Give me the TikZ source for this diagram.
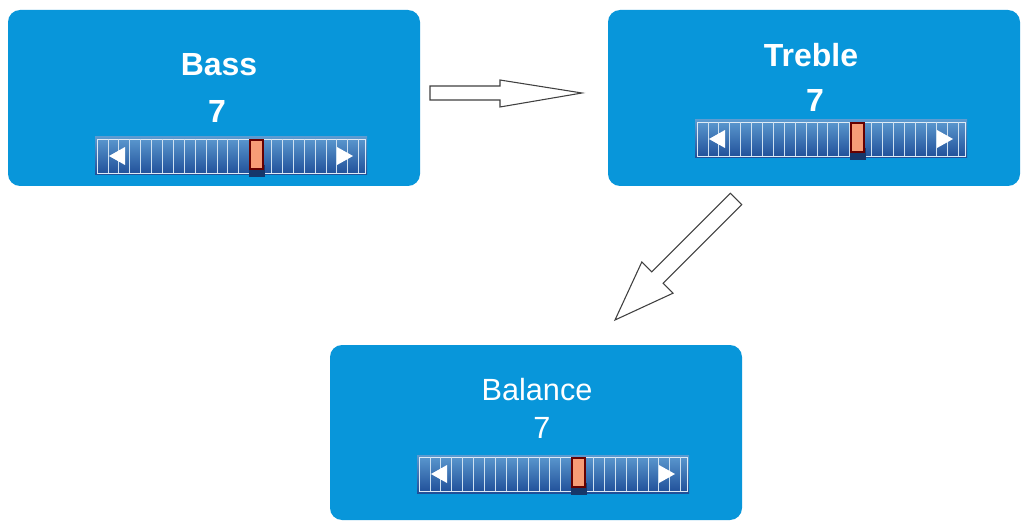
\documentclass[tikz,border=0pt]{standalone}
\usepackage{fontspec}
\setmainfont{Liberation Sans}
\begin{document}
\begin{tikzpicture}[x=0.75pt,y=-0.75pt,
  box/.style={fill=boxblue,rounded corners=9pt},
  lbl/.style={text=white,font=\fontsize{23}{25}\selectfont},
  blbl/.style={text=white,font=\fontsize{24}{26}\selectfont\bfseries},
  blk/.style={draw=black!75,fill=white,line width=0.8pt,line join=miter}]
\definecolor{boxblue}{HTML}{0896DA}
\definecolor{slA}{HTML}{5C9AD0}
\definecolor{slB}{HTML}{1F4E98}
\definecolor{thumb}{HTML}{F79C76}
\newcommand{\myslider}[3]{%
  \shade[top color=slA,bottom color=slB] (#1,#2) rectangle ++(272,38);
  \draw[white!80!slA,line width=0.6pt] (#1+2,#2+2) rectangle ++(268,34);
  \foreach \i in {1,...,24}{\draw[white!70!slA,line width=0.5pt] (#1+2+\i*10.9,#2+2) -- ++(0,34);}
  \fill[white] (#1+14,#2+19) -- ++(16,-9) -- ++(0,18) -- cycle;
  \fill[white] (#1+258,#2+19) -- ++(-16,-9) -- ++(0,18) -- cycle;
  \fill[slB!70!black] (#3-1,#2+28) rectangle ++(16,12);
  \draw[fill=thumb,draw=black!60!red,line width=1.2pt] (#3,#2+3) rectangle ++(13,29);
}
\useasboundingbox (0,0) rectangle (1026,528);
\fill[white] (0,0) rectangle (1026,528);
\fill[box] (8,10) rectangle (420,186);
\fill[box] (608,10) rectangle (1020,186);
\fill[box] (330,345) rectangle (742,520);
\node[blbl] (bass) at (219,65) {Bass};
\node[blbl] (bassv) at (217,111) {7};
\node[blbl] (treb) at (811,55) {Treble};
\node[blbl] (trebv) at (815,100) {7};
\node[lbl] (bal) at (537,390) {Balance};
\node[lbl] (balv) at (542,428) {7};
\myslider{95}{137}{250}
\myslider{695}{120}{851}
\myslider{417}{455}{572}
\draw[blk] (430,86) -- (500,86) -- (500,80) -- (582,93) -- (500,107) -- (500,100) -- (430,100) -- cycle;
\draw[blk] (741.7,204.7) -- (730.3,193.3) -- (651.7,271.9) -- (641.8,262) -- (615,320) -- (673,293.2) -- (663.1,283.3) -- cycle;
\end{tikzpicture}
\end{document}
